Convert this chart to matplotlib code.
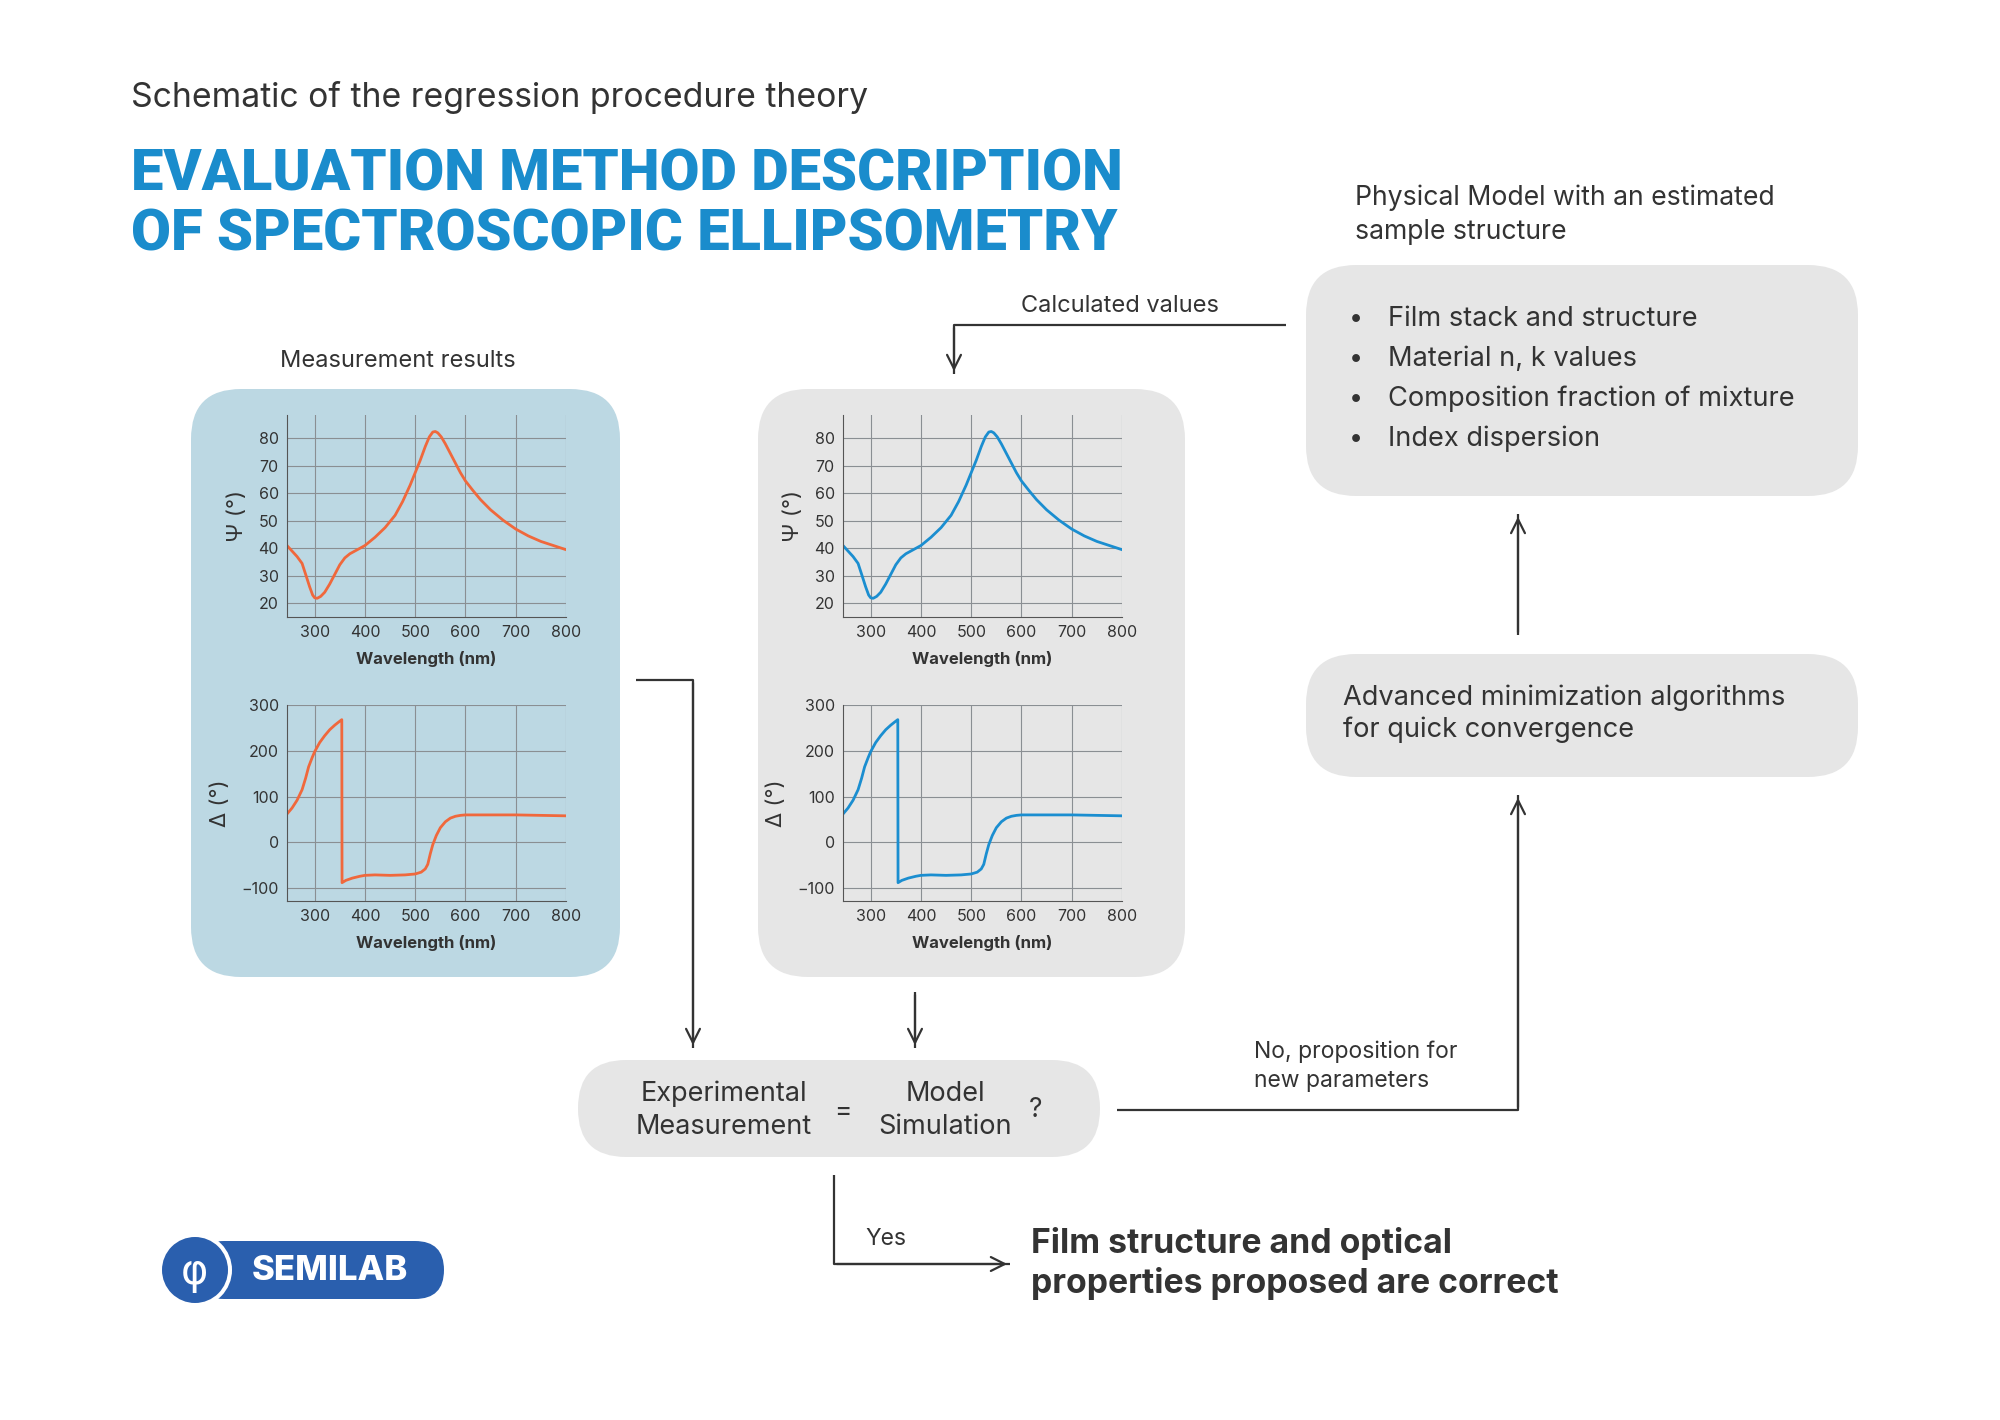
import matplotlib
matplotlib.use("Agg")
import matplotlib.pyplot as plt
from matplotlib.patches import FancyBboxPatch, Circle
import numpy as np

plt.rcParams['font.family'] = 'Inter'

# ---- data ----
psi_wl = [245, 255, 265, 275, 283, 290, 296, 300, 305, 312, 320, 330, 340, 350, 360, 370, 385, 400, 420, 440, 460, 475, 490, 500, 510, 520, 528, 535, 540, 545, 552, 560, 570, 580, 590, 600, 615, 630, 650, 675, 700, 725, 750, 775, 800]
psi_val = [41, 39, 37, 34.5, 30, 26, 23, 22, 21.8, 22.5, 24, 27, 30.5, 34, 36.5, 38, 39.5, 41, 44, 47.5, 52, 57, 63, 67.5, 72, 77, 80.5, 82.3, 82.5, 82, 80.5, 78, 74.5, 71, 67.5, 64.5, 61, 57.7, 54, 50.2, 47, 44.5, 42.5, 41, 39.5]
delta_wl = [245, 255, 265, 275, 282, 288, 295, 300, 310, 320, 330, 340, 348, 354, 354.5, 362, 375, 390, 400, 420, 450, 480, 500, 512, 520, 525, 530, 535, 542, 550, 560, 570, 580, 590, 600, 650, 700, 750, 800]
delta_val = [62, 75, 92, 115, 140, 165, 185, 198, 218, 233, 246, 256, 263, 268, -88, -83, -78, -74, -72, -71, -72, -71, -69, -65, -58, -48, -25, -5, 15, 32, 45, 53, 57, 59, 60, 60, 60, 59, 58]
x_ticks = [300, 400, 500, 600, 700, 800]
psi_ticks = [20, 30, 40, 50, 60, 70, 80]
delta_ticks = [-100, 0, 100, 200, 300]
bullets = ["Film stack and structure", "Material n, k values",
           "Composition fraction of mixture", "Index dispersion"]

W, H = 2000, 1420
fig = plt.figure(figsize=(20, 14.2), dpi=100)
bg = fig.add_axes([0, 0, 1, 1])
bg.set_xlim(0, W); bg.set_ylim(H, 0); bg.axis('off')

DARK = '#333333'
BLUE = '#1a8ccc'

def box(x0, y0, x1, y1, color, r=50):
    bg.add_patch(FancyBboxPatch((x0 + r, y0 + r), x1 - x0 - 2 * r, y1 - y0 - 2 * r,
                                boxstyle=f"round,pad={r}", fc=color, ec='none'))

def arrow(pts):
    xs, ys = zip(*pts)
    bg.plot(xs, ys, color=DARK, lw=1.6, solid_capstyle='butt')
    bg.annotate('', xy=pts[-1], xytext=pts[-2],
                arrowprops=dict(arrowstyle='->,head_length=1.0,head_width=0.5', color=DARK, lw=1.6))

# titles
bg.text(131, 98, "Schematic of the regression procedure theory", fontsize=24.3, color=DARK, va='center')
bg.text(131, 175, "EVALUATION METHOD DESCRIPTION", fontsize=41.7, color=BLUE, fontweight='black', fontfamily='Roboto', va='center')
bg.text(131, 235, "OF SPECTROSCOPIC ELLIPSOMETRY", fontsize=41.7, color=BLUE, fontweight='black', fontfamily='Roboto', va='center')

# boxes
box(191, 389, 620, 977, '#bcd8e3')
box(758, 389, 1185, 977, '#e6e6e6')
box(1306, 265, 1858, 496, '#e6e6e6')
box(1306, 654, 1858, 777, '#e6e6e6')
box(578, 1060, 1100, 1157, '#e6e6e6', r=48)

bg.text(398, 361, "Measurement results", fontsize=17, color=DARK, ha='center', va='center')
bg.text(1120, 306, "Calculated values", fontsize=17, color=DARK, ha='center', va='center')
bg.text(1355, 198, "Physical Model with an estimated", fontsize=19.2, color=DARK, va='center')
bg.text(1355, 232, "sample structure", fontsize=19.2, color=DARK, va='center')
for i, b in enumerate(bullets):
    y = 319 + i * 40
    bg.text(1356, y, "\u2022", fontsize=18, color=DARK, va='center', ha='center')
    bg.text(1388, y, b, fontsize=19.6, color=DARK, va='center')
bg.text(1343, 698, "Advanced minimization algorithms", fontsize=19.6, color=DARK, va='center')
bg.text(1343, 730, "for quick convergence", fontsize=19.6, color=DARK, va='center')
bg.text(1254, 1052, "No, proposition for", fontsize=16.5, color=DARK, va='center')
bg.text(1254, 1081, "new parameters", fontsize=16.5, color=DARK, va='center')
bg.text(724, 1094, "Experimental", fontsize=19.5, color=DARK, ha='center', va='center')
bg.text(724, 1127, "Measurement", fontsize=19.5, color=DARK, ha='center', va='center')
bg.text(843, 1112, "=", fontsize=19, color=DARK, ha='center', va='center')
bg.text(945, 1094, "Model", fontsize=19.5, color=DARK, ha='center', va='center')
bg.text(945, 1127, "Simulation", fontsize=19.5, color=DARK, ha='center', va='center')
bg.text(1036, 1110, "?", fontsize=19, color=DARK, ha='center', va='center')
bg.text(865, 1239, "Yes", fontsize=16.5, color=DARK, va='center')
bg.text(1031, 1244, "Film structure and optical", fontsize=24.3, color=DARK, fontweight='bold', va='center')
bg.text(1031, 1284, "properties proposed are correct", fontsize=24.3, color=DARK, fontweight='bold', va='center')

# arrows
arrow([(1286, 325), (954, 325), (954, 374)])
arrow([(1518, 635), (1518, 514)])
arrow([(1117, 1110), (1518, 1110), (1518, 795)])
arrow([(636, 680), (693, 680), (693, 1048)])
arrow([(915, 992), (915, 1048)])
arrow([(834, 1175), (834, 1264), (1010, 1264)])

# logo
LB = '#2a5fae'
bg.add_patch(FancyBboxPatch((195, 1241), 249, 58, boxstyle="round,pad=0,rounding_size=29", fc=LB, ec='none'))
bg.add_patch(Circle((195, 1270), 37, fc='white', ec='none'))
bg.add_patch(Circle((195, 1270), 33, fc=LB, ec='none'))
bg.text(194, 1272, "\u03c6", fontsize=30, color='white', ha='center', va='center', fontfamily='DejaVu Sans')
bg.text(330, 1271, "SEMILAB", fontsize=25, color='white', fontweight='heavy', ha='center', va='center')

def to_fig(x0, y0, x1, y1):
    return [x0 / W, 1 - y1 / H, (x1 - x0) / W, (y1 - y0) / H]

def make_plot(rect, x, y, yt, ylim, ylabel, color, facecolor):
    ax = fig.add_axes(to_fig(*rect))
    ax.set_facecolor(facecolor)
    ax.plot(x, y, color=color, lw=2)
    ax.set_xlim(245, 800); ax.set_ylim(*ylim)
    ax.set_xticks(x_ticks); ax.set_yticks(yt)
    ax.grid(True, color='#8a8f93', lw=0.8)
    ax.set_axisbelow(True)
    for s in ['top', 'right']:
        ax.spines[s].set_visible(False)
    for s in ['left', 'bottom']:
        ax.spines[s].set_color('#555555')
    ax.tick_params(length=0, labelsize=11.5, colors=DARK, pad=6)
    ax.set_xlabel("Wavelength (nm)", fontsize=12, fontweight='bold', color=DARK, labelpad=8)
    ax.set_ylabel(ylabel, fontsize=16, color=DARK, labelpad=8)
    return ax

ORANGE = '#f0683c'
CYAN = '#1b8ed0'
for (x0, x1, col, fc) in [(287, 566, ORANGE, '#bcd8e3'), (843, 1122, CYAN, '#e6e6e6')]:
    make_plot((x0, 415, x1, 617), psi_wl, psi_val, psi_ticks, (15, 88.5), "\u03a8 (\u00b0)", col, fc)
    make_plot((x0, 705, x1, 901), delta_wl, delta_val, delta_ticks, (-128, 300), "\u0394 (\u00b0)", col, fc)

fig.savefig("out.png", dpi=100, facecolor='white')
